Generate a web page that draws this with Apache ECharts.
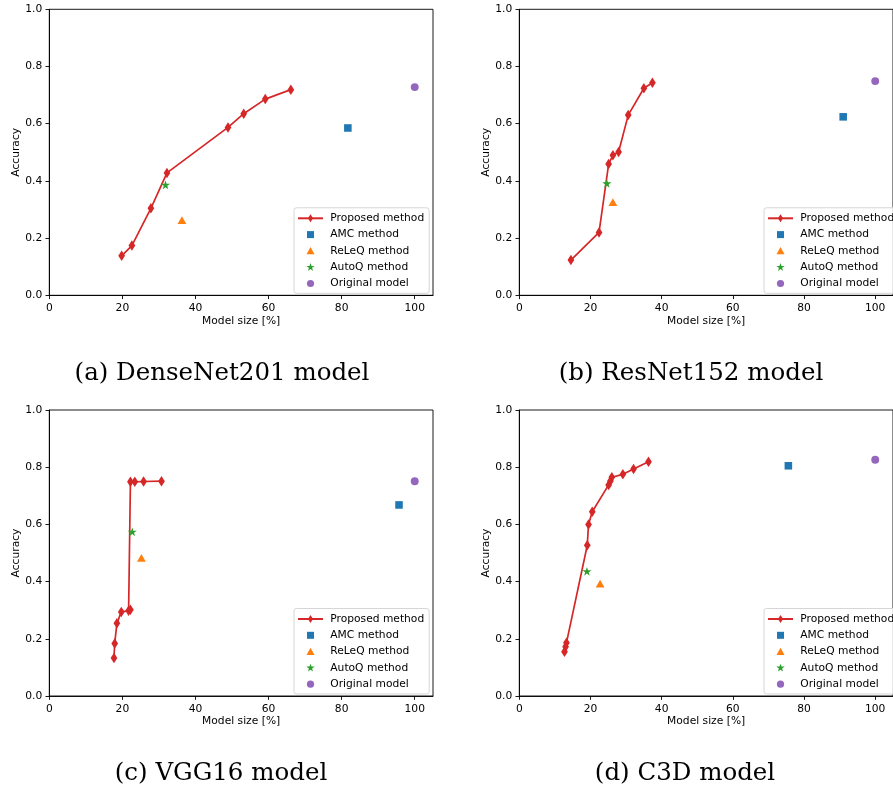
<!DOCTYPE html>
<html>
<head>
<meta charset="utf-8">
<script src="https://cdn.jsdelivr.net/npm/echarts@6/dist/echarts.min.js"></script>
<style>
  html, body { margin: 0; padding: 0; background: #fff; }
  #chart { width: 893px; height: 792px; }
</style>
</head>
<body>
<div id="chart"></div>
<script>
// ---------------- data ----------------
const xTicks = [0, 20, 40, 60, 80, 100];
const yTicks = [0, 0.2, 0.4, 0.6, 0.8, 1.0];
const seriesNames = ['Proposed method', 'AMC method', 'ReLeQ method', 'AutoQ method', 'Original model'];
const captions = ['(a) DenseNet201 model', '(b) ResNet152 model', '(c) VGG16 model', '(d) C3D model'];

// (a) DenseNet201
const aProposed = [[19.8, 0.138], [22.6, 0.174], [27.8, 0.304], [32.2, 0.428], [48.9, 0.587], [53.2, 0.635], [59.1, 0.686], [66.1, 0.719]];
const aAMC = [[81.7, 0.585]];
const aReLeQ = [[36.3, 0.262]];
const aAutoQ = [[31.8, 0.385]];
const aOriginal = [[100, 0.728]];

// (b) ResNet152
const bProposed = [[14.5, 0.123], [22.4, 0.220], [25.1, 0.459], [26.3, 0.490], [27.9, 0.501], [30.6, 0.630], [35.0, 0.724], [37.4, 0.743]];
const bAMC = [[91.0, 0.624]];
const bReLeQ = [[26.3, 0.325]];
const bAutoQ = [[24.6, 0.390]];
const bOriginal = [[100, 0.749]];

// (c) VGG16
const cProposed = [[17.7, 0.133], [17.9, 0.184], [18.5, 0.254], [19.7, 0.294], [21.7, 0.298], [22.2, 0.302], [22.2, 0.749], [23.4, 0.749], [25.8, 0.750], [30.7, 0.751]];
const cAMC = [[95.7, 0.668]];
const cReLeQ = [[25.2, 0.482]];
const cAutoQ = [[22.7, 0.573]];
const cOriginal = [[100, 0.751]];

// (d) C3D
const dProposed = [[12.7, 0.155], [13.0, 0.172], [13.25, 0.186], [19.1, 0.527], [19.45, 0.600], [20.5, 0.644], [25.1, 0.738], [25.6, 0.752], [26.0, 0.765], [29.1, 0.775], [32.1, 0.794], [36.3, 0.819]];
const dAMC = [[75.6, 0.805]];
const dReLeQ = [[22.7, 0.392]];
const dAutoQ = [[19.0, 0.435]];
const dOriginal = [[100, 0.826]];

const panels = [
  [aProposed, aAMC, aReLeQ, aAutoQ, aOriginal],
  [bProposed, bAMC, bReLeQ, bAutoQ, bOriginal],
  [cProposed, cAMC, cReLeQ, cAutoQ, cOriginal],
  [dProposed, dAMC, dReLeQ, dAutoQ, dOriginal]
];

// ---------------- styles ----------------
const colors = ['#d62728', '#1f77b4', '#ff7f0e', '#2ca02c', '#9467bd'];
// padded symbol paths (the leading moves fix the bounding box so the shape keeps its margin)
const symbols = [
  'path://M0,0M100,100M50,0L82,50L50,100L18,50Z',
  'path://M0,0M100,100M15,15L85,15L85,85L15,85Z',
  'path://M0,0M100,100M50,12L90,83L10,83Z',
  'path://M0,0M100,100M50,8L60,37L92,37L66,56L75,87L50,68L25,87L34,56L8,37L40,37Z',
  'path://M0,0M100,100M86,50A36,36 0 1 1 14,50A36,36 0 1 1 86,50Z'
];
const symbolSizes = [10.5, 10.8, 11, 11, 11];

const FONT = 'DejaVu Sans';
const FS = 10.7;
const gridW = 383.7, gridH = 286;
const gridPos = [[49.3, 9.3], [519.3, 9.3], [49.3, 410], [519.3, 410]];
const captionPos = [[222, 374], [691, 374], [221, 774], [685, 774]];

const grids = [], xAxes = [], yAxes = [], series = [], legends = [], graphics = [];

gridPos.forEach((p, i) => {
  grids.push({
    left: p[0], top: p[1], width: gridW, height: gridH,
    show: true, borderColor: '#000', borderWidth: 0.9, backgroundColor: 'transparent'
  });
  xAxes.push({
    gridIndex: i, type: 'value', min: 0, max: 105,
    axisLine: { show: true, onZero: false, lineStyle: { color: '#000', width: 0.9 } },
    axisTick: { show: true, length: 3.8, lineStyle: { color: '#000', width: 0.9 }, customValues: xTicks },
    axisLabel: { customValues: xTicks, margin: 7.5, color: '#000', fontSize: FS, fontFamily: FONT },
    splitLine: { show: false },
    name: 'Model size [%]', nameLocation: 'middle', nameGap: 20,
    nameTextStyle: { color: '#000', fontSize: FS, fontFamily: FONT }
  });
  yAxes.push({
    gridIndex: i, type: 'value', min: 0, max: 1,
    axisLine: { show: true, onZero: false, lineStyle: { color: '#000', width: 0.9 } },
    axisTick: { show: true, length: 3.8, lineStyle: { color: '#000', width: 0.9 }, customValues: yTicks },
    axisLabel: { customValues: yTicks, margin: 7, color: '#000', fontSize: FS, fontFamily: FONT,
      formatter: v => v.toFixed(1) },
    splitLine: { show: false },
    name: 'Accuracy', nameLocation: 'middle', nameGap: 28,
    nameTextStyle: { color: '#000', fontSize: FS, fontFamily: FONT }
  });

  panels[i].forEach((d, k) => {
    const base = {
      name: seriesNames[k], xAxisIndex: i, yAxisIndex: i, data: d,
      symbol: symbols[k], symbolSize: symbolSizes[k],
      itemStyle: { color: colors[k], opacity: 1 },
      emphasis: { disabled: true }, animation: false, z: 2 + k
    };
    if (k === 0) {
      series.push(Object.assign(base, {
        type: 'line', showSymbol: true,
        lineStyle: { color: colors[k], width: 1.7 }
      }));
    } else {
      series.push(Object.assign(base, { type: 'scatter' }));
    }
  });

  legends.push({
    left: p[0] + 244.7, top: p[1] + 198.5,
    orient: 'vertical', selectedMode: false,
    itemWidth: 25, itemHeight: 10, itemGap: 5.3,
    padding: [5, 5, 4.3, 3],
    backgroundColor: 'rgba(255,255,255,0.8)',
    borderColor: '#d6d6d6', borderWidth: 1, borderRadius: 2.5,
    itemStyle: { opacity: 1 },
    textStyle: { color: '#000', fontSize: FS, fontFamily: FONT, lineHeight: 10, padding: [0, 0, 0, 2.3] },
    data: seriesNames.slice()
  });

  graphics.push({
    type: 'text', x: captionPos[i][0], y: captionPos[i][1],
    style: {
      text: captions[i], fontFamily: 'DejaVu Serif', fontSize: 24.5,
      fill: '#000', align: 'center', verticalAlign: 'middle'
    }
  });
});

const chart = echarts.init(document.getElementById('chart'), null, { renderer: 'canvas' });
chart.setOption({
  backgroundColor: '#fff',
  animation: false,
  grid: grids,
  xAxis: xAxes,
  yAxis: yAxes,
  legend: legends,
  series: series,
  graphic: graphics
});
</script>
</body>
</html>
